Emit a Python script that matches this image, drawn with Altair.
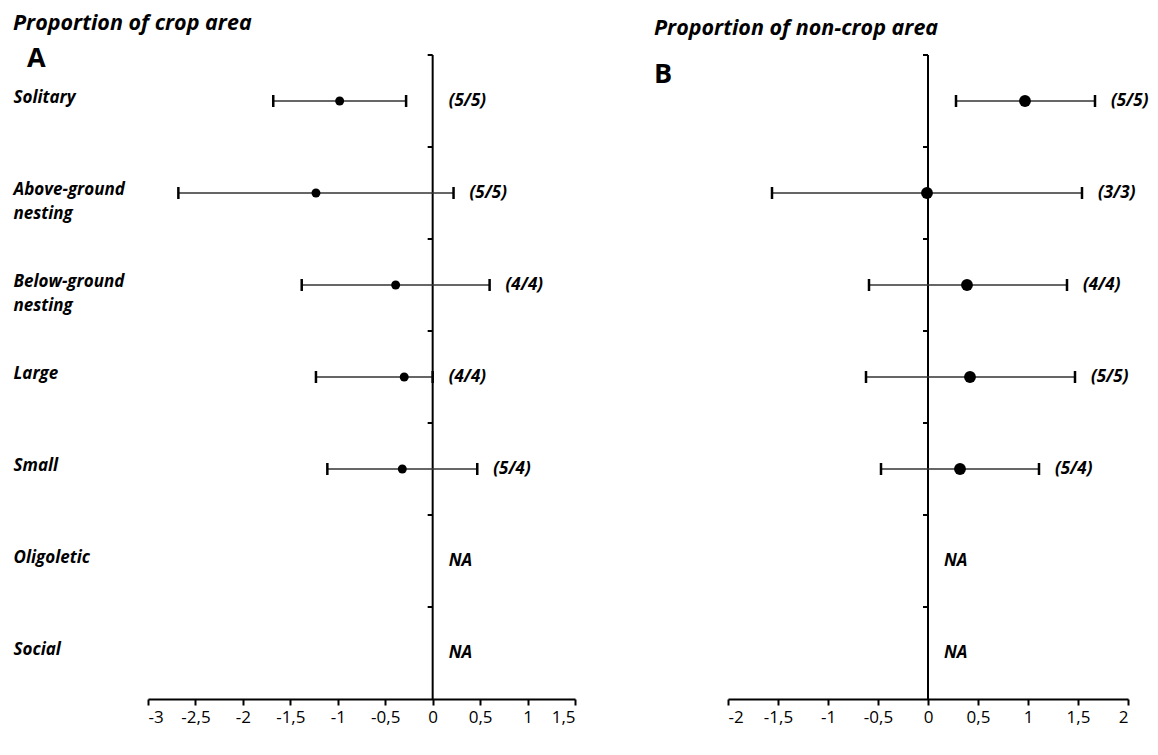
import altair as alt
import pandas as pd

FONT = "Open Sans"

categories = ["Solitary", "Above-ground nesting", "Below-ground nesting",
              "Large", "Small", "Oligoletic", "Social"]

# Panel A: proportion of crop area
crop_mean = [-0.98, -1.23, -0.39, -0.30, -0.32, None, None]
crop_low = [-1.68, -2.68, -1.38, -1.23, -1.11, None, None]
crop_high = [-0.28, 0.22, 0.60, 0.00, 0.47, None, None]
crop_n = ["(5/5)", "(5/5)", "(4/4)", "(4/4)", "(5/4)", "NA", "NA"]
crop_ticks = [-3, -2.5, -2, -1.5, -1, -0.5, 0, 0.5, 1, 1.5]

# Panel B: proportion of non-crop area
noncrop_mean = [0.97, -0.01, 0.39, 0.42, 0.32, None, None]
noncrop_low = [0.28, -1.56, -0.59, -0.62, -0.47, None, None]
noncrop_high = [1.67, 1.54, 1.39, 1.47, 1.11, None, None]
noncrop_n = ["(5/5)", "(3/3)", "(4/4)", "(5/5)", "(5/4)", "NA", "NA"]
noncrop_ticks = [-2, -1.5, -1, -0.5, 0, 0.5, 1, 1.5, 2]


def make_df(mean, low, high, n):
    df = pd.DataFrame({"cat": categories, "mean": mean, "low": low,
                       "high": high, "n": n})
    df["labx"] = [max(h, 0) if h is not None and h == h else 0 for h in df["high"]]
    df["zero"] = 0.0
    return df


def panel(df, ticks, width, pt_size, title, letter, letter_pos, show_y, tparams):
    xscale = alt.Scale(domain=[ticks[0], ticks[-1]], nice=False, zero=False)
    xaxis = alt.Axis(values=ticks, grid=False, title=None, domainColor="black",
                     domainWidth=2, tickColor="black", tickWidth=2, tickSize=6,
                     labelColor="black", labelFontSize=17, labelPadding=4,
                     labelFont=FONT,
                     labelExpr="replace(toString(datum.value), '.', ',')")

    def X(field):
        return alt.X(field, type="quantitative", scale=xscale, axis=xaxis)

    yscale = alt.Scale(domain=categories, paddingInner=0, paddingOuter=0)
    if show_y:
        yaxis = alt.Axis(domain=False, ticks=False, grid=False, title=None,
                         labelAlign="left", labelPadding=135, labelFontSize=17,
                         labelFontStyle="italic", labelFontWeight="bold",
                         labelColor="black", labelFont=FONT, labelLineHeight=24,
                         labelBaseline="middle", labelOffset=-3, labelLimit=200,
                         labelExpr="split(replace(datum.label, ' nesting', '|nesting'), '|')")
    else:
        yaxis = None

    def Y(**kw):
        return alt.Y("cat:N", sort=categories, scale=yscale, axis=yaxis, **kw)

    base = alt.Chart(df)
    valid = base.transform_filter("isValid(datum.mean)")

    vline = alt.Chart(df.head(1)).mark_rule(color="black", strokeWidth=2).encode(x=X("zero"))
    bandticks = base.mark_rule(color="black", strokeWidth=2, x2Offset=-5).encode(
        x=X("zero"), x2="zero:Q", y=Y(bandPosition=0))
    bars = valid.mark_rule(color="#333333", strokeWidth=1.5).encode(
        x=X("low"), x2="high:Q", y=Y())
    cap_lo = valid.mark_tick(color="black", thickness=2.5, size=12, opacity=1).encode(
        x=X("low"), y=Y())
    cap_hi = valid.mark_tick(color="black", thickness=2.5, size=12, opacity=1).encode(
        x=X("high"), y=Y())
    pts = valid.mark_circle(color="black", opacity=1, size=pt_size).encode(x=X("mean"), y=Y())
    labels = base.mark_text(align="left", baseline="middle", dx=16, fontSize=17,
                            fontStyle="italic", fontWeight="bold", color="black",
                            font=FONT).encode(x=X("labx"), y=Y(), text="n:N")
    letter_mark = alt.Chart(df.head(1)).mark_text(
        align="left", baseline="middle", fontSize=27, fontWeight="bold",
        color="black", font=FONT).encode(
        x=alt.value(letter_pos[0]), y=alt.value(letter_pos[1]), text=alt.value(letter))

    return alt.layer(vline, bandticks, bars, cap_lo, cap_hi, pts, labels,
                     letter_mark).properties(
        width=width, height=644,
        title=alt.TitleParams(text=title, **tparams))


tcommon = dict(anchor="start", fontSize=21.5, font=FONT, fontStyle="italic",
               fontWeight="bold", color="black")
tA = dict(frame="bounds", offset=11, dx=0, **tcommon)
tB = dict(frame="group", offset=15, dx=-74, **tcommon)

chartA = panel(make_df(crop_mean, crop_low, crop_high, crop_n), crop_ticks, 427, 80,
               "Proportion of crop area", "A", (-121, 4), True, tA)
chartB = panel(make_df(noncrop_mean, noncrop_low, noncrop_high, noncrop_n), noncrop_ticks,
               400, 140, "Proportion of non-crop area", "B", (-74, 20), False, tB)

chart = alt.hconcat(chartA, chartB, spacing=153, bounds="flush").configure(
    font=FONT, background="white",
    padding={"left": 5, "top": 4, "right": 0, "bottom": 5}).configure_view(
    stroke="transparent", strokeWidth=0)

chart.save("out.html", embed_options={"renderer": "svg", "actions": False})
